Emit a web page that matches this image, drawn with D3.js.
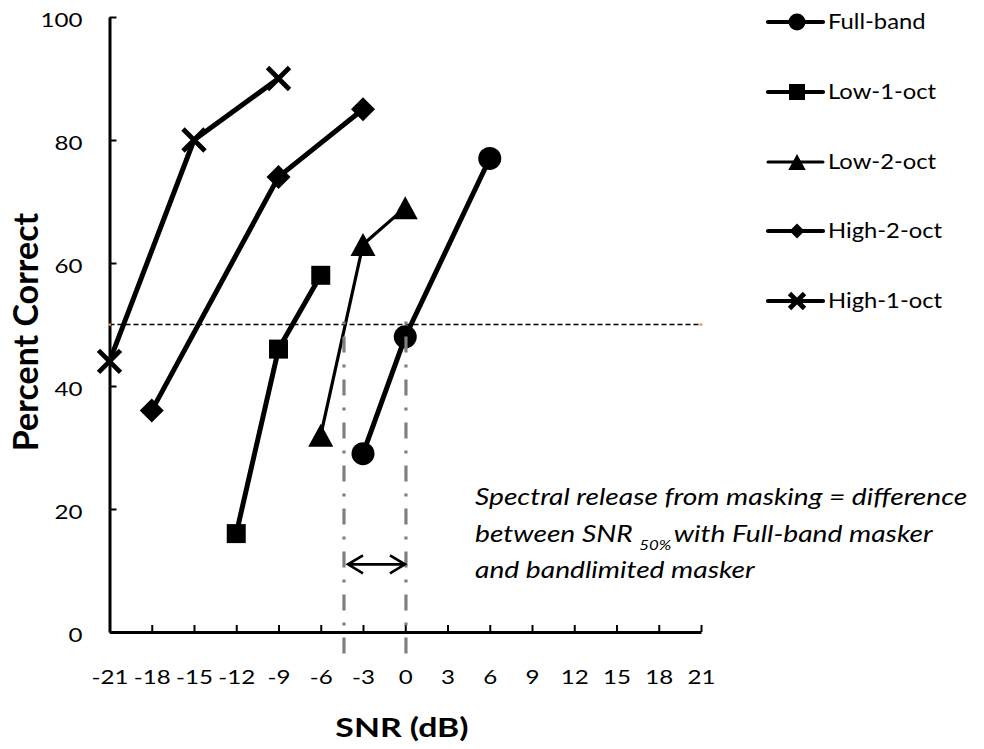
<!DOCTYPE html>
<html>
<head>
<meta charset="utf-8">
<script src="https://cdn.jsdelivr.net/npm/d3@7"></script>
<style>
  body { margin: 0; background: #fff; }
  svg { display: block; }
</style>
</head>
<body>
<svg id="chart" width="984" height="749"></svg>
<script>
// Axis ticks
const xTickValues = [-21, -18, -15, -12, -9, -6, -3, 0, 3, 6, 9, 12, 15, 18, 21];
const yTickValues = [0, 20, 40, 60, 80, 100];

// Psychometric data: SNR (dB) vs. percent correct, per masker condition
const seriesNames = ["Full-band", "Low-1-oct", "Low-2-oct", "High-2-oct", "High-1-oct"];
const fullBandSNR = [-3, 0, 6];
const fullBandPct = [29, 48, 77];
const low1SNR = [-12, -9, -6];
const low1Pct = [16, 46, 58];
const low2SNR = [-6, -3, 0];
const low2Pct = [32, 63, 69];
const high2SNR = [-18, -9, -3];
const high2Pct = [36, 74, 85];
const high1SNR = [-21, -15, -9];
const high1Pct = [44, 80, 90];

// 50% criterion and the two SNR_50% reference lines
const criterionPct = 50;
const snr50Bandlimited = -4.35;
const snr50FullBand = 0.05;
const dropLineBottomPct = -5.4;
const arrowPct = 11;

const annotationLine1 = "Spectral release from masking = difference";
const annotationLine2a = "between SNR ";
const annotationSub = "50%";
const annotationLine2b = "with Full-band masker";
const annotationLine3 = "and bandlimited masker";

const series = [
  { name: seriesNames[0], snr: fullBandSNR, pct: fullBandPct, marker: "circle",   width: 5 },
  { name: seriesNames[1], snr: low1SNR,     pct: low1Pct,     marker: "square",   width: 5 },
  { name: seriesNames[2], snr: low2SNR,     pct: low2Pct,     marker: "triangle", width: 3.2 },
  { name: seriesNames[3], snr: high2SNR,    pct: high2Pct,    marker: "diamond",  width: 5 },
  { name: seriesNames[4], snr: high1SNR,    pct: high1Pct,    marker: "x",        width: 5 }
];

const svg = d3.select("#chart");
const font = "Lato, 'Open Sans', sans-serif";

const x = d3.scaleLinear().domain([-21, 21]).range([109.5, 701]);
const y = d3.scaleLinear().domain([0, 100]).range([632, 17]);

// Marker shapes centred on their bounding box
function markerPath(type, s) {
  const p = d3.path();
  const h = s / 2;
  switch (type) {
    case "circle": p.moveTo(h, 0); p.arc(0, 0, h, 0, 2 * Math.PI); break;
    case "square": p.rect(-h, -h, s, s); break;
    case "triangle": {
      const w = s * 1.09 / 2;
      p.moveTo(0, -h); p.lineTo(w, h); p.lineTo(-w, h); p.closePath(); break;
    }
    case "diamond": p.moveTo(0, -h); p.lineTo(h, 0); p.lineTo(0, h); p.lineTo(-h, 0); p.closePath(); break;
    case "x": p.moveTo(-h, -h); p.lineTo(h, h); p.moveTo(h, -h); p.lineTo(-h, h); break;
  }
  return p.toString();
}
const dataMarkerSize = { circle: 23, square: 19, triangle: 23, diamond: 24, x: 22 };
const legendMarkerSize = { circle: 17, square: 16, triangle: 16, diamond: 15, x: 15 };

function drawMarker(g, type, size) {
  const m = g.append("path").attr("d", markerPath(type, size));
  if (type === "x") {
    m.attr("fill", "none").attr("stroke", "#000").attr("stroke-width", 4.8);
  } else {
    m.attr("fill", "#000");
  }
  return m;
}

// Horizontal widening of the text so the Calibri-like face keeps its proportions
const tickStretch = 1.27;

// Axes (ticks point into the plot)
const fmt = d => String(d);
const xAxis = d3.axisBottom(x).tickValues(xTickValues).tickFormat(fmt)
  .tickSizeInner(-7).tickSizeOuter(0).tickPadding(40);
const yAxis = d3.axisLeft(y).tickValues(yTickValues).tickFormat(fmt)
  .tickSizeInner(-7).tickSizeOuter(0).tickPadding(27);

const gx = svg.append("g").attr("transform", `translate(0,${y(0)})`).call(xAxis);
const gy = svg.append("g").attr("transform", `translate(${x(-21)},0)`).call(yAxis);
[gx, gy].forEach(g => {
  g.select(".domain").attr("stroke", "#000").attr("stroke-width", 3);
  g.selectAll(".tick line").attr("stroke", "#000").attr("stroke-width", 2);
  g.selectAll(".tick text").attr("fill", "#000").style("font-family", font).style("font-size", "19px");
});
gx.selectAll(".tick text")
  .attr("dy", "0.62em")
  .attr("transform", `scale(${tickStretch},1)`);
gy.selectAll(".tick text")
  .attr("x", 0).attr("dy", "0.52em")
  .attr("transform", `translate(-27,0) scale(${tickStretch},1)`);

// Axis titles
svg.append("text")
  .attr("transform", "translate(402,737) scale(1.3,1)")
  .attr("text-anchor", "middle")
  .style("font-family", font).style("font-weight", "bold").style("font-size", "26px")
  .text("SNR (dB)");
svg.append("text")
  .attr("transform", "translate(38,332) rotate(-90)")
  .attr("text-anchor", "middle")
  .style("font-family", font).style("font-weight", "bold").style("font-size", "34px")
  .text("Percent Correct");

// 50% criterion line
svg.append("line")
  .attr("x1", x(-21)).attr("x2", x(21))
  .attr("y1", y(criterionPct)).attr("y2", y(criterionPct))
  .attr("stroke", "#000").attr("stroke-width", 1.5).attr("stroke-dasharray", "5,3");
[-21, 21].forEach(v => {
  svg.append("rect")
    .attr("x", x(v) - 1.5).attr("y", y(criterionPct) - 1)
    .attr("width", 3).attr("height", 2.2)
    .attr("fill", "#f79646");
});

// Series lines and markers
const line = d3.line().x(d => x(d[0])).y(d => y(d[1]));
series.forEach(s => {
  const pts = s.snr.map((v, i) => [v, s.pct[i]]);
  svg.append("path")
    .attr("d", line(pts))
    .attr("fill", "none").attr("stroke", "#000")
    .attr("stroke-width", s.width).attr("stroke-linejoin", "round");
  pts.forEach(p => {
    const g = svg.append("g").attr("transform", `translate(${x(p[0])},${y(p[1])})`);
    drawMarker(g, s.marker, dataMarkerSize[s.marker]);
  });
});

// SNR_50% drop lines
[snr50Bandlimited, snr50FullBand].forEach(v => {
  svg.append("line")
    .attr("x1", x(v)).attr("x2", x(v))
    .attr("y1", y(criterionPct) - 3).attr("y2", y(dropLineBottomPct))
    .attr("stroke", "#7f7f7f").attr("stroke-width", 3.2)
    .attr("stroke-dasharray", "3,12,16,12");
});

// Double-headed arrow between the two SNR_50% values
{
  const ax1 = x(snr50Bandlimited) + 4, ax2 = x(snr50FullBand) - 1, ay = y(arrowPct);
  const p = d3.path();
  p.moveTo(ax1, ay); p.lineTo(ax2, ay);
  p.moveTo(ax1 + 15, ay - 9); p.lineTo(ax1, ay); p.lineTo(ax1 + 15, ay + 9);
  p.moveTo(ax2 - 15, ay - 9); p.lineTo(ax2, ay); p.lineTo(ax2 - 15, ay + 9);
  svg.append("path").attr("d", p.toString())
    .attr("fill", "none").attr("stroke", "#000").attr("stroke-width", 2.6)
    .attr("stroke-linejoin", "miter");
}

// Annotation
const ann = svg.append("g")
  .attr("transform", "translate(475,0) scale(1.2,1)")
  .style("font-family", font).style("font-style", "italic").style("font-size", "23.5px")
  .attr("fill", "#000");
ann.append("text").attr("x", 0).attr("y", 505).text(annotationLine1);
const t2 = ann.append("text").attr("x", 0).attr("y", 542);
t2.append("tspan").text(annotationLine2a);
t2.append("tspan").attr("dy", 8).style("font-size", "14px").text(annotationSub);
t2.append("tspan").attr("dy", -8).attr("dx", 2).text(annotationLine2b);
ann.append("text").attr("x", 0).attr("y", 578).text(annotationLine3);

// Legend
const legendY = [22, 92, 162, 231, 301];
series.forEach((s, i) => {
  const g = svg.append("g").attr("transform", `translate(0,${legendY[i]})`);
  g.append("line").attr("x1", 768).attr("x2", 823).attr("y1", 0).attr("y2", 0)
    .attr("stroke", "#000").attr("stroke-width", s.width === 5 ? 4.2 : 3)
    .attr("stroke-linecap", "round");
  const mg = g.append("g").attr("transform", "translate(797,0)");
  drawMarker(mg, s.marker, legendMarkerSize[s.marker]);
  g.append("text")
    .attr("transform", "translate(828,0) scale(1.16,1)")
    .attr("dy", "0.36em")
    .style("font-family", font).style("font-size", "20.5px")
    .text(s.name);
});
</script>
</body>
</html>
